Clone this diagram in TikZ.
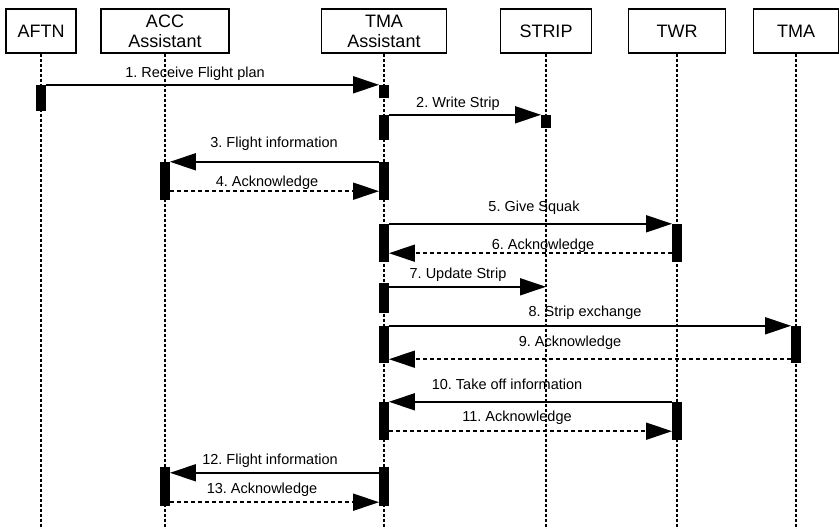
\documentclass[tikz,border=0pt]{standalone}
\usepackage{fontspec}
\setmainfont{Liberation Sans}
\usetikzlibrary{arrows.meta}
\frenchspacing
\begin{document}
\begin{tikzpicture}[x=1pt,y=-1pt,
 hdr/.style={draw=black, line width=1.5pt, minimum height=44pt, inner sep=0pt, font=\fontsize{18}{20}\selectfont, align=center},
 life/.style={line width=2pt, dash pattern=on 3pt off 2pt},
 act/.style={fill=black, draw=none, minimum width=9.5pt, inner sep=0pt},
 msg/.style={line width=1.7pt, -{Triangle[length=26pt,width=17pt]}},
 reply/.style={msg, dash pattern=on 4pt off 3pt},
 lbl/.style={font=\fontsize{14.5}{17}\selectfont, anchor=base, inner sep=0pt}]
\useasboundingbox[fill=white] (0,0) rectangle (839,529);
\coordinate (bot) at (0,529);
% headers
\node[hdr, minimum width=70pt]  (aftn)  at (41,31)  {AFTN};
\node[hdr, minimum width=128pt] (acc)   at (165,31) {ACC\\Assistant};
\node[hdr, minimum width=125pt] (tmaas) at (384,31) {TMA\\Assistant};
\node[hdr, minimum width=91pt]  (strip) at (546,31) {STRIP};
\node[hdr, minimum width=97pt]  (twr)   at (677,31) {TWR};
\node[hdr, minimum width=85pt]  (tma)   at (796,31) {TMA};
% lifelines
\foreach \n in {aftn,acc,tmaas,strip,twr,tma}
  \draw[life] (\n.south) -- (\n.south |- bot);
% activations
\node[act, minimum height=26pt] (aftnA) at (41,98) {};
\node[act, minimum height=13pt] (tmaA1) at (384,91.5) {};
\node[act, minimum height=25pt] (tmaA2) at (384,127.5) {};
\node[act, minimum height=13pt] (stripA) at (546,121.5) {};
\node[act, minimum height=38pt] (accA1) at (165,181) {};
\node[act, minimum height=38pt] (tmaA3) at (384,181) {};
\node[act, minimum height=38pt] (tmaA4) at (384,243) {};
\node[act, minimum height=38pt] (twrA1) at (677,243) {};
\node[act, minimum height=30pt] (tmaA5) at (384,298) {};
\node[act, minimum height=37pt] (tmaA6) at (384,344.5) {};
\node[act, minimum height=37pt] (tmaR)  at (796,344.5) {};
\node[act, minimum height=38pt] (tmaA7) at (384,421) {};
\node[act, minimum height=38pt] (twrA2) at (677,421) {};
\node[act, minimum height=39pt] (accA2) at (165,486.5) {};
\node[act, minimum height=39pt] (tmaA8) at (384,486.5) {};
% messages
\draw[msg] (aftnA.north east) -- (tmaA1.north west);
\draw[msg] (tmaA2.north east) -- (stripA.north west);
\draw[msg] (tmaA3.north west) -- (accA1.north east);
\draw[reply] ([yshift=9pt]accA1.south east) -- ([yshift=9pt]tmaA3.south west);
\draw[msg] (tmaA4.north east) -- (twrA1.north west);
\draw[reply] ([yshift=9pt]twrA1.south west) -- ([yshift=9pt]tmaA4.south east);
\coordinate (m7) at ([yshift=-4pt]tmaA5.north east);
\draw[msg] (m7) -- (m7 -| strip);
\draw[msg] (tmaA6.north east) -- (tmaR.north west);
\draw[reply] ([yshift=4pt]tmaR.south west) -- ([yshift=4pt]tmaA6.south east);
\draw[msg] (twrA2.north west) -- (tmaA7.north east);
\draw[reply] ([yshift=9pt]tmaA7.south east) -- ([yshift=9pt]twrA2.south west);
\draw[msg] ([yshift=-6pt]tmaA8.north west) -- ([yshift=-6pt]accA2.north east);
\draw[reply] ([yshift=4pt]accA2.south east) -- ([yshift=4pt]tmaA8.south west);
% labels
\node[lbl] (l1)  at (195,78)  {1. Receive Flight plan};
\node[lbl] (l2)  at (458,108) {2. Write Strip};
\node[lbl] (l3)  at (274,148) {3. Flight information};
\node[lbl] (l4)  at (267,187) {4. Acknowledge};
\node[lbl] (l5)  at (534,212) {5. Give Squak};
\node[lbl] (l6)  at (543,250) {6. Acknowledge};
\node[lbl] (l7)  at (458,279) {7. Update Strip};
\node[lbl] (l8)  at (585,317) {8. Strip exchange};
\node[lbl] (l9)  at (570,347) {9. Acknowledge};
\node[lbl] (l10) at (507,390) {10. Take off information};
\node[lbl] (l11) at (517,422) {11. Acknowledge};
\node[lbl] (l12) at (270,465) {12. Flight information};
\node[lbl] (l13) at (262,494) {13. Acknowledge};
\end{tikzpicture}
\end{document}
